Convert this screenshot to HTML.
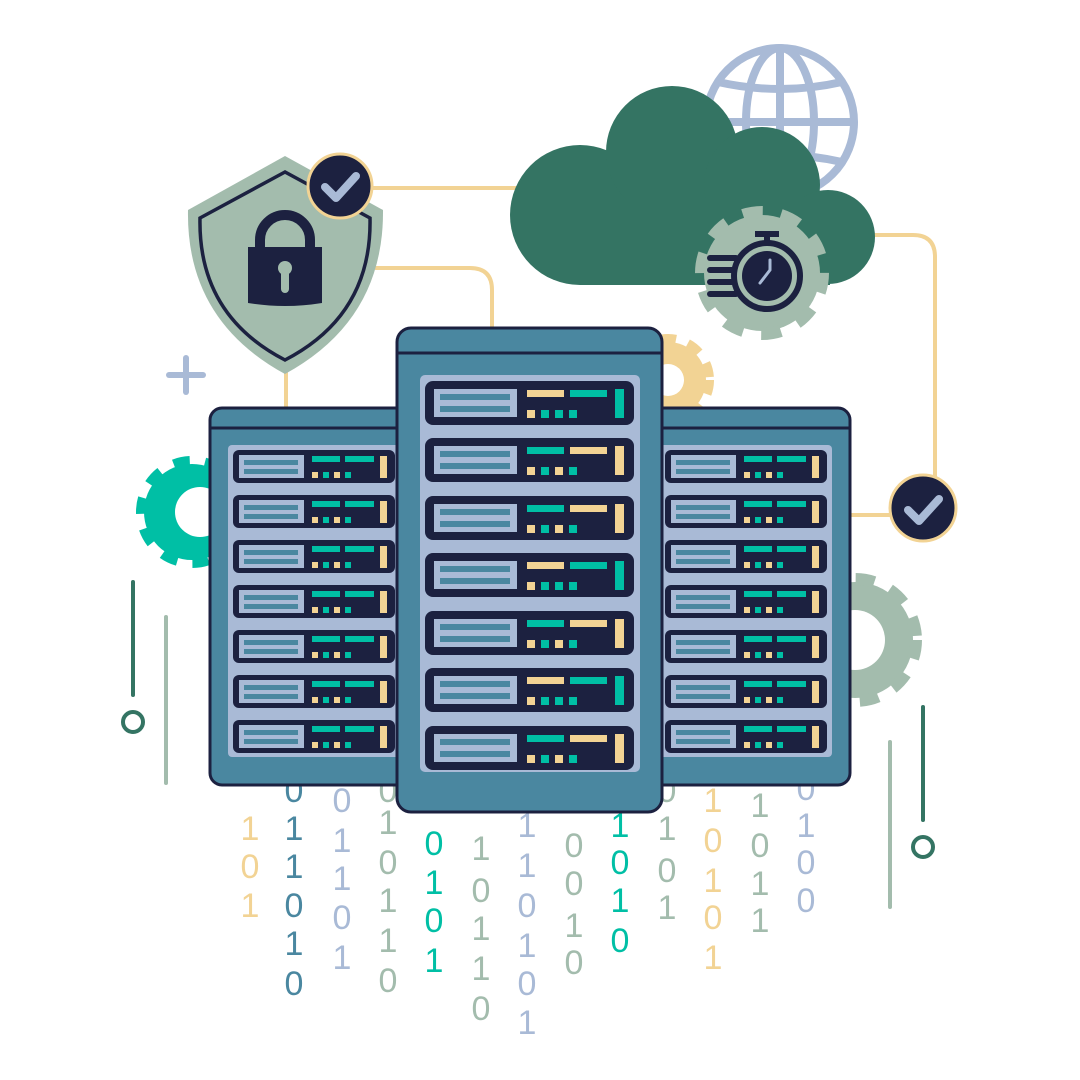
<!DOCTYPE html>
<html><head><meta charset="utf-8"><style>html,body{margin:0;padding:0;background:#fff}svg{display:block}</style></head>
<body>
<svg width="1080" height="1080" viewBox="0 0 1080 1080" xmlns="http://www.w3.org/2000/svg">
<defs>
  <g id="uc">
    <rect x="0" y="0" width="209" height="44" rx="8" fill="#1c2140"/>
    <rect x="9" y="8" width="83" height="28" fill="#a9bad6"/>
    <rect x="15" y="13" width="70" height="6" fill="#4a87a0"/>
    <rect x="15" y="25" width="70" height="6" fill="#4a87a0"/>
    <rect x="102" y="9" width="37" height="7" fill="#f2d394"/>
    <rect x="145" y="9" width="37" height="7" fill="#00bfa5"/>
    <rect x="190" y="8" width="9" height="29" fill="#00bfa5"/>
    <rect x="102" y="29" width="8" height="8" fill="#f2d394"/>
    <rect x="116" y="29" width="8" height="8" fill="#00bfa5"/>
    <rect x="130" y="29" width="8" height="8" fill="#00bfa5"/>
    <rect x="144" y="29" width="8" height="8" fill="#00bfa5"/>
  </g>
  <g id="uc2">
    <rect x="0" y="0" width="209" height="44" rx="8" fill="#1c2140"/>
    <rect x="9" y="8" width="83" height="28" fill="#a9bad6"/>
    <rect x="15" y="13" width="70" height="6" fill="#4a87a0"/>
    <rect x="15" y="25" width="70" height="6" fill="#4a87a0"/>
    <rect x="102" y="9" width="37" height="7" fill="#00bfa5"/>
    <rect x="145" y="9" width="37" height="7" fill="#f2d394"/>
    <rect x="190" y="8" width="9" height="29" fill="#f2d394"/>
    <rect x="102" y="29" width="8" height="8" fill="#f2d394"/>
    <rect x="116" y="29" width="8" height="8" fill="#00bfa5"/>
    <rect x="130" y="29" width="8" height="8" fill="#f2d394"/>
    <rect x="144" y="29" width="8" height="8" fill="#00bfa5"/>
  </g>
  <g id="us">
    <rect x="0" y="0" width="162" height="33" rx="6" fill="#1c2140"/>
    <rect x="6" y="5" width="65" height="23" fill="#a9bad6"/>
    <rect x="11" y="10" width="54" height="5" fill="#4a87a0"/>
    <rect x="11" y="19" width="54" height="5" fill="#4a87a0"/>
    <rect x="79" y="6" width="28" height="6" fill="#00bfa5"/>
    <rect x="112" y="6" width="29" height="6" fill="#00bfa5"/>
    <rect x="147" y="6" width="7" height="22" fill="#f2d394"/>
    <rect x="79" y="22" width="6" height="6" fill="#f2d394"/>
    <rect x="90" y="22" width="6" height="6" fill="#00bfa5"/>
    <rect x="101" y="22" width="6" height="6" fill="#f2d394"/>
    <rect x="112" y="22" width="6" height="6" fill="#00bfa5"/>
  </g>
</defs>

<!-- globe -->
<g fill="none" stroke="#a9bad6" stroke-width="8">
  <circle cx="780" cy="122" r="74"/>
  <ellipse cx="780" cy="122" rx="34" ry="74"/>
  <line x1="780" y1="48" x2="780" y2="196"/>
  <line x1="706" y1="122" x2="854" y2="122"/>
  <path d="M718 82 Q780 96 842 82"/>
  <path d="M718 162 Q780 148 842 162"/>
</g>

<!-- connectors -->
<g fill="none" stroke="#f2d394" stroke-width="4">
  <line x1="370" y1="188" x2="520" y2="188"/>
  <path d="M375 268 H470 Q492 268 492 290 V330"/>
  <line x1="286" y1="370" x2="286" y2="410"/>
  <path d="M868 235 H913 Q935 235 935 257 V478"/>
  <line x1="848" y1="515" x2="892" y2="515"/>
</g>

<!-- cloud -->
<g fill="#347463">
  <circle cx="580" cy="215" r="70"/>
  <circle cx="672" cy="152" r="66"/>
  <circle cx="762" cy="185" r="58"/>
  <circle cx="828" cy="237" r="47"/>
  <rect x="580" y="200" width="250" height="85"/>
</g>

<!-- stopwatch gear -->
<g>
  <circle cx="762" cy="273" r="58" fill="#a3bcad"/>
  <circle cx="762" cy="273" r="61" fill="none" stroke="#a3bcad" stroke-width="12" stroke-dasharray="20 18.3"/>
  <circle cx="767" cy="276" r="33" fill="none" stroke="#1c2140" stroke-width="6"/>
  <circle cx="767" cy="276" r="25" fill="#1c2140"/>
  <rect x="755" y="231" width="24" height="6" fill="#1c2140"/>
  <rect x="764" y="233" width="6" height="12" fill="#1c2140"/>
  <g stroke="#1c2140" stroke-width="6" stroke-linecap="round">
    <line x1="710" y1="258" x2="736" y2="258"/>
    <line x1="710" y1="270" x2="732" y2="270"/>
    <line x1="710" y1="282" x2="732" y2="282"/>
    <line x1="710" y1="294" x2="736" y2="294"/>
  </g>
  <path d="M760 283 L770 270 L770 260" fill="none" stroke="#a9bad6" stroke-width="3" stroke-linecap="round"/>
</g>

<!-- yellow gear behind -->
<g>
  <circle cx="668" cy="380" r="38" fill="#f2d394"/>
  <circle cx="668" cy="380" r="40" fill="none" stroke="#f2d394" stroke-width="12" stroke-dasharray="14 12"/>
  <circle cx="668" cy="380" r="16" fill="#fff"/>
</g>

<!-- teal gear left -->
<g>
  <circle cx="192" cy="512" r="48" fill="#00bfa5"/>
  <circle cx="192" cy="512" r="50" fill="none" stroke="#00bfa5" stroke-width="12" stroke-dasharray="16 15"/>
  <circle cx="200" cy="512" r="25" fill="#fff"/>
</g>

<!-- sage gear right -->
<g>
  <circle cx="855" cy="640" r="58" fill="#a3bcad"/>
  <circle cx="855" cy="640" r="61" fill="none" stroke="#a3bcad" stroke-width="12" stroke-dasharray="19 17"/>
  <circle cx="855" cy="640" r="30" fill="#fff"/>
</g>

<!-- shield -->
<path d="M285 156 L188 210 Q186 320 285 374 Q384 320 383 210 Z" fill="#a3bcad"/>
<path d="M285 172 L200 218 Q198 315 285 360 Q372 315 370 218 Z" fill="none" stroke="#1c2140" stroke-width="3.5"/>
<path d="M260 247 V240 A25 25 0 0 1 310 240 V247" fill="none" stroke="#1c2140" stroke-width="10"/>
<path d="M248 247 H322 V303 Q285 309 248 303 Z" fill="#1c2140"/>
<circle cx="285" cy="268" r="7" fill="#a3bcad"/>
<rect x="281" y="268" width="8" height="25" rx="4" fill="#a3bcad"/>

<!-- check badges -->
<g>
  <circle cx="340" cy="186" r="32" fill="#1c2140" stroke="#f2d394" stroke-width="3"/>
  <path d="M325 187 L336 198 L356 176" fill="none" stroke="#a9bad6" stroke-width="8" stroke-linecap="round" stroke-linejoin="round"/>
  <circle cx="923" cy="508" r="33" fill="#1c2140" stroke="#f2d394" stroke-width="3"/>
  <path d="M908 510 L919 521 L939 499" fill="none" stroke="#a9bad6" stroke-width="8" stroke-linecap="round" stroke-linejoin="round"/>
</g>

<!-- plus -->
<g stroke="#a9bad6" stroke-width="6" stroke-linecap="round">
  <line x1="186" y1="358" x2="186" y2="392"/>
  <line x1="169" y1="375" x2="203" y2="375"/>
</g>

<!-- side lines -->
<g stroke-width="4" stroke-linecap="round" fill="none">
  <line x1="133" y1="582" x2="133" y2="695" stroke="#347463"/>
  <circle cx="133" cy="722" r="10" stroke="#347463"/>
  <line x1="166" y1="617" x2="166" y2="783" stroke="#a3bcad"/>
  <line x1="890" y1="742" x2="890" y2="907" stroke="#a3bcad"/>
  <line x1="923" y1="707" x2="923" y2="820" stroke="#347463"/>
  <circle cx="923" cy="847" r="10" stroke="#347463"/>
</g>

<!-- binary -->
<g font-family="Liberation Sans, sans-serif" font-size="34" text-anchor="middle">
  <g fill="#f2d394"><text x="250" y="840">1</text><text x="250" y="878">0</text><text x="250" y="917">1</text></g>
  <g fill="#4a87a0"><text x="294" y="802">0</text><text x="294" y="840">1</text><text x="294" y="878">1</text><text x="294" y="917">0</text><text x="294" y="955">1</text><text x="294" y="995">0</text></g>
  <g fill="#a9bad6"><text x="342" y="812">0</text><text x="342" y="852">1</text><text x="342" y="890">1</text><text x="342" y="929">0</text><text x="342" y="969">1</text></g>
  <g fill="#a3bcad"><text x="388" y="802">0</text><text x="388" y="834">1</text><text x="388" y="874">0</text><text x="388" y="912">1</text><text x="388" y="952">1</text><text x="388" y="992">0</text></g>
  <g fill="#00bfa5"><text x="434" y="855">0</text><text x="434" y="894">1</text><text x="434" y="932">0</text><text x="434" y="972">1</text></g>
  <g fill="#a3bcad"><text x="481" y="860">1</text><text x="481" y="902">0</text><text x="481" y="940">1</text><text x="481" y="980">1</text><text x="481" y="1020">0</text></g>
  <g fill="#a9bad6"><text x="527" y="837">1</text><text x="527" y="877">1</text><text x="527" y="917">0</text><text x="527" y="957">1</text><text x="527" y="995">0</text><text x="527" y="1034">1</text></g>
  <g fill="#a3bcad"><text x="574" y="857">0</text><text x="574" y="895">0</text><text x="574" y="937">1</text><text x="574" y="974">0</text></g>
  <g fill="#00bfa5"><text x="620" y="837">1</text><text x="620" y="874">0</text><text x="620" y="912">1</text><text x="620" y="952">0</text></g>
  <g fill="#a3bcad"><text x="667" y="802">0</text><text x="667" y="840">1</text><text x="667" y="882">0</text><text x="667" y="919">1</text></g>
  <g fill="#f2d394"><text x="713" y="812">1</text><text x="713" y="852">0</text><text x="713" y="892">1</text><text x="713" y="929">0</text><text x="713" y="969">1</text></g>
  <g fill="#a3bcad"><text x="760" y="817">1</text><text x="760" y="857">0</text><text x="760" y="895">1</text><text x="760" y="932">1</text></g>
  <g fill="#a9bad6"><text x="806" y="800">0</text><text x="806" y="837">1</text><text x="806" y="874">0</text><text x="806" y="912">0</text></g>
</g>

<!-- left server -->
<g>
  <rect x="210" y="408" width="200" height="377" rx="12" fill="#4a87a0" stroke="#1c2140" stroke-width="3"/>
  <line x1="210" y1="428" x2="410" y2="428" stroke="#1c2140" stroke-width="3"/>
  <rect x="228" y="445" width="180" height="312" rx="4" fill="#a9bad6"/>
  <use href="#us" x="233" y="450"/><use href="#us" x="233" y="495"/><use href="#us" x="233" y="540"/><use href="#us" x="233" y="585"/><use href="#us" x="233" y="630"/><use href="#us" x="233" y="675"/><use href="#us" x="233" y="720"/>
</g>
<!-- right server -->
<g>
  <rect x="650" y="408" width="200" height="377" rx="12" fill="#4a87a0" stroke="#1c2140" stroke-width="3"/>
  <line x1="650" y1="428" x2="850" y2="428" stroke="#1c2140" stroke-width="3"/>
  <rect x="655" y="445" width="177" height="312" rx="4" fill="#a9bad6"/>
  <use href="#us" x="665" y="450"/><use href="#us" x="665" y="495"/><use href="#us" x="665" y="540"/><use href="#us" x="665" y="585"/><use href="#us" x="665" y="630"/><use href="#us" x="665" y="675"/><use href="#us" x="665" y="720"/>
</g>
<!-- center server -->
<g>
  <rect x="397" y="328" width="265" height="484" rx="14" fill="#4a87a0" stroke="#1c2140" stroke-width="3"/>
  <line x1="397" y1="353" x2="662" y2="353" stroke="#1c2140" stroke-width="3"/>
  <rect x="420" y="375" width="220" height="397" rx="5" fill="#a9bad6"/>
  <use href="#uc" x="425" y="381"/><use href="#uc2" x="425" y="438"/><use href="#uc2" x="425" y="496"/><use href="#uc" x="425" y="553"/><use href="#uc2" x="425" y="611"/><use href="#uc" x="425" y="668"/><use href="#uc2" x="425" y="726"/>
</g>
</svg>
</body></html>
